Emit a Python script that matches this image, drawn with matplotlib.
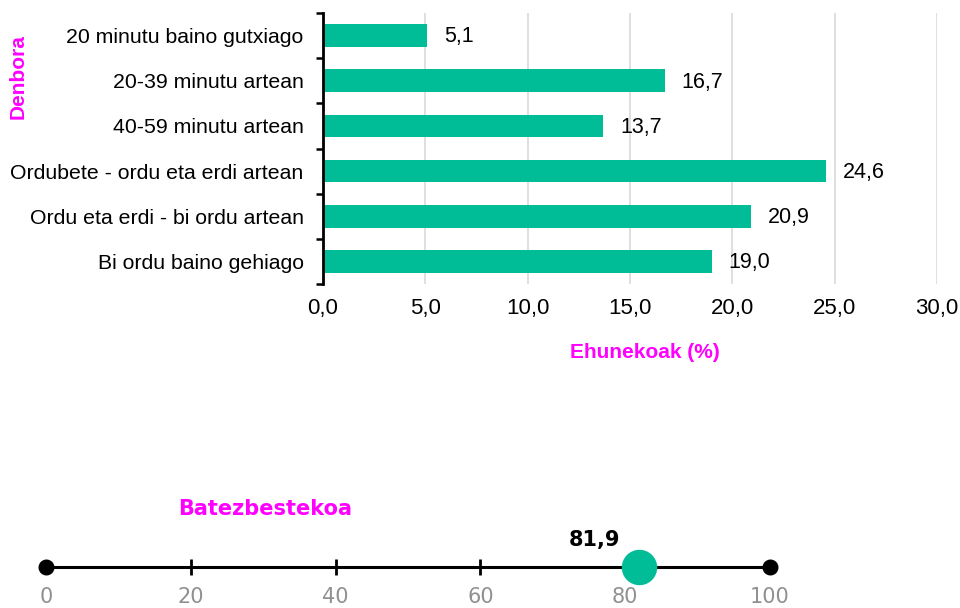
import matplotlib
matplotlib.use("Agg")
import matplotlib.pyplot as plt
import numpy as np

categories = ["20 minutu baino gutxiago", "20-39 minutu artean", "40-59 minutu artean",
              "Ordubete - ordu eta erdi artean", "Ordu eta erdi - bi ordu artean",
              "Bi ordu baino gehiago"]
values = [5.1, 16.7, 13.7, 24.6, 20.9, 19.0]
x_ticks = [0, 5, 10, 15, 20, 25, 30]
mean_value = 81.9
scale_ticks = [0, 20, 40, 60, 80, 100]

GREEN = "#00BD97"
MAGENTA = "#FF00FF"

plt.rcParams['font.family'] = ['Liberation Sans', 'DejaVu Sans']

fig = plt.figure(figsize=(9.6, 6.08), dpi=100)

# ---- top bar chart ----
ax = fig.add_axes([323/960, 1-284/608, (937-323)/960, (284-13)/608])
y = np.arange(len(categories))
ax.barh(y, values, height=0.5, color=GREEN, zorder=3)
ax.set_ylim(len(categories)-0.5, -0.5)
ax.set_xlim(0, 30)
ax.set_yticks(y)
ax.set_yticklabels(categories, fontsize=15.3)
ax.set_yticks(np.arange(-0.5, len(categories)), minor=True)
ax.tick_params(axis='y', which='major', length=0, pad=14)
ax.tick_params(axis='y', which='minor', length=5, width=1.8, direction='out', color='black')
ax.set_xticks(x_ticks)
ax.set_xticklabels([f"{t:.1f}".replace('.', ',') for t in x_ticks], fontsize=16)
ax.tick_params(axis='x', length=0, pad=10)
ax.grid(axis='x', color='#d9d9d9', lw=1.2, zorder=0)
for s in ['top', 'right', 'bottom']:
    ax.spines[s].set_visible(False)
ax.spines['left'].set_linewidth(2)
ax.spines['left'].set_zorder(4)
for yi, v in zip(y, values):
    ax.annotate(f"{v:.1f}".replace('.', ','), (v, yi), xytext=(12, -1),
                textcoords='offset points', va='center', ha='left', fontsize=15.5)

fig.text(18/960, 1-77/608, "Denbora", rotation=90, color=MAGENTA, fontweight='bold',
         fontsize=15, ha='center', va='center')
fig.text(645/960, 1-353/608, "Ehunekoak (%)", color=MAGENTA, fontweight='bold',
         fontsize=15, ha='center', va='center')

# ---- bottom number line ----
ax2 = fig.add_axes([46/960, 0, (770-46)/960, 82/608])
ax2.set_xlim(0, 100)
ax2.set_ylim(-1, 1)
ax2.axis('off')
ax2.plot([0, 100], [0, 0], color='black', lw=2.2, zorder=1, solid_capstyle='butt')
ax2.plot([0, 100], [0, 0], 'o', color='black', ms=10.5, zorder=2, clip_on=False)
mids = [t for t in scale_ticks if 0 < t < 100 and t != 80]
ax2.plot(mids, [0]*len(mids), '|', color='black', ms=12, mew=2, zorder=2)
ax2.plot([mean_value], [0], 'o', color=GREEN, ms=24.5, zorder=3, clip_on=False)
for t in scale_ticks:
    ax2.text(t, -0.72, str(t), color='#909090', fontsize=15, ha='center', va='center',
             family='DejaVu Sans')
ax2.text(mean_value - 6.2, 0.66, f"{mean_value:.1f}".replace('.', ','), fontweight='bold',
         fontsize=15, ha='center', va='center', family='DejaVu Sans')
fig.text(265/960, 1-509/608, "Batezbestekoa", color=MAGENTA, fontweight='bold',
         fontsize=15, ha='center', va='center', family='DejaVu Sans')

fig.savefig("out.png", dpi=100)
